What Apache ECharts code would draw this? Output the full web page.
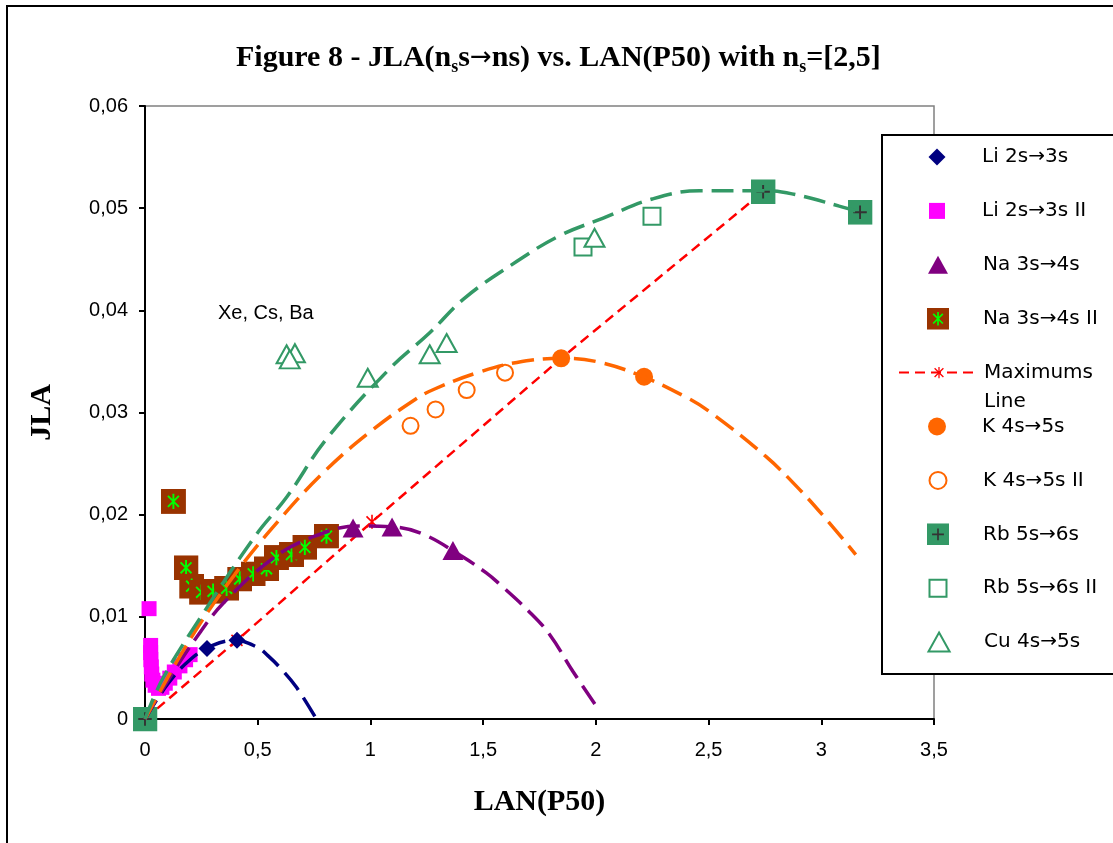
<!DOCTYPE html>
<html><head><meta charset="utf-8">
<script src="https://cdn.jsdelivr.net/npm/echarts@6/dist/echarts.min.js"></script>
<style>html,body{margin:0;padding:0;background:#fff}#c{width:1113px;height:843px}</style>
</head><body><div id="c"></div>
<script>
// ---- data ----
const xTickValues = [0, 0.5, 1, 1.5, 2, 2.5, 3, 3.5];
const yTickValues = [0, 0.01, 0.02, 0.03, 0.04, 0.05, 0.06];

const li2s3s = [[0.275, 0.0069], [0.408, 0.0077]];
const li2s3sII = [[0.018, 0.0108], [0.025, 0.0072], [0.025, 0.0065], [0.026, 0.0058], [0.028, 0.0051],
  [0.030, 0.0044], [0.035, 0.0038], [0.045, 0.0033], [0.060, 0.0030], [0.075, 0.0031], [0.090, 0.0035],
  [0.110, 0.0040], [0.130, 0.0046], [0.155, 0.0052], [0.180, 0.0058], [0.200, 0.0063]];
const na3s4s = [[0.923, 0.0187], [1.096, 0.0188], [1.366, 0.0165]];
const na3s4sII = [[0.126, 0.0213], [0.182, 0.0148], [0.207, 0.0130], [0.251, 0.0124], [0.302, 0.0125],
  [0.362, 0.0128], [0.420, 0.0137], [0.480, 0.0142], [0.539, 0.0147], [0.583, 0.0158], [0.650, 0.0161],
  [0.709, 0.0168], [0.805, 0.0179]];
const maximumsLine = [[0, 0], [0.408, 0.0077], [1.007, 0.0193], [1.846, 0.0353], [2.742, 0.0516]];
const k4s5s = [[1.846, 0.0353], [2.214, 0.0335]];
const k4s5sII = [[1.178, 0.0287], [1.289, 0.0303], [1.427, 0.0322], [1.597, 0.0339]];
const rb5s6s = [[0, 0], [2.742, 0.0516], [3.172, 0.0496]];
const rb5s6sII = [[1.943, 0.0462], [2.249, 0.0492]];
const cu4s5s = [[0.628, 0.0357], [0.665, 0.0358], [0.642, 0.0352], [0.988, 0.0334], [1.263, 0.0357],
  [1.338, 0.0368], [1.994, 0.0471]];

// trend curves (dashed)
const liTrend = [[0, 0], [0.1, 0.0034], [0.2, 0.0058], [0.3, 0.0072], [0.4, 0.0077], [0.5, 0.0070],
  [0.545, 0.0062], [0.6, 0.0050], [0.672, 0.0031], [0.76, 0.0000]];
const naTrend = [[0, 0], [0.1, 0.0037], [0.229, 0.0080], [0.346, 0.0113], [0.554, 0.0155], [0.731, 0.0177],
  [0.95, 0.0189], [1.1, 0.0188], [1.232, 0.0181], [1.40, 0.0160], [1.514, 0.0143], [1.573, 0.0132],
  [1.70, 0.0106], [1.794, 0.0083], [1.897, 0.0047], [2.016, 0.0008]];
const kTrend = [[0, 0], [0.2, 0.0078], [0.4, 0.0142], [0.6, 0.0196], [0.8, 0.0243], [1.004, 0.0282],
  [1.2, 0.0313], [1.285, 0.0323], [1.475, 0.0339], [1.65, 0.0349], [1.85, 0.0353], [2.0, 0.0350],
  [2.2, 0.0336], [2.4, 0.0315], [2.503, 0.0301], [2.754, 0.0257], [2.902, 0.0225], [3.02, 0.0196],
  [3.153, 0.0161]];
const rbTrend = [[0, 0], [0.08, 0.0040], [0.257, 0.0103], [0.495, 0.0181], [0.628, 0.0217], [0.805, 0.0274],
  [1.086, 0.0343], [1.263, 0.0378], [1.418, 0.0412], [1.65, 0.0448], [1.839, 0.0473], [2.03, 0.0490],
  [2.25, 0.0509], [2.46, 0.0517], [2.75, 0.0517], [2.87, 0.0514], [3.08, 0.0502], [3.172, 0.0496]];

const legendNames = ['Li 2s→3s', 'Li 2s→3s II', 'Na 3s→4s', 'Na 3s→4s II', 'Maximums Line',
  'K 4s→5s', 'K 4s→5s II', 'Rb 5s→6s', 'Rb 5s→6s II', 'Cu 4s→5s'];
const annotationText = 'Xe, Cs, Ba';

// ---- styling ----
function svgSym(body, w, h) {
  return 'image://data:image/svg+xml;charset=utf-8,' + encodeURIComponent(
    '<svg xmlns="http://www.w3.org/2000/svg" width="' + w + '" height="' + h + '" viewBox="0 0 ' + w + ' ' + h + '">' + body + '</svg>');
}
const naIISym = svgSym('<rect width="26" height="26" fill="#993300"/><path d="M13 5V21M7.3 7.3L18.7 18.7M18.7 7.3L7.3 18.7" stroke="#00FF00" stroke-width="2"/>', 26, 26);
const rbSym = svgSym('<rect width="26" height="26" fill="#339966"/><path d="M13 6V20M6 13H20" stroke="#333333" stroke-width="2"/>', 26, 26);
const maxSym = svgSym('<path d="M8 1V15M2.5 2.5L13.5 13.5M13.5 2.5L2.5 13.5" stroke="#FF0000" stroke-width="1.6"/>', 16, 16);
const DIAMOND = 'path://M5 0L10 5L5 10L0 5Z';
const SQUARE = 'path://M0 0H10V10H0Z';
const TRI = 'path://M5 0L10 9H0Z';
const CIRCLE = 'path://M5 0A5 5 0 1 1 5 10A5 5 0 1 1 5 0Z';

const NAVY = '#000080', MAG = '#FF00FF', PURP = '#800080', RED = '#FF0000', ORNG = '#FF6600', GRN = '#339966';

const trendStyle = (c) => ({ color: c, width: 3.5, type: [22, 9], opacity: 1 });
const filled = (c) => ({ color: c, opacity: 1 });
const hollow = (c) => ({ color: '#fff', borderColor: c, borderWidth: 2, opacity: 1 });

const series = [
  { name: 'Maximums Line', type: 'line', data: maximumsLine, z: 1, symbol: maxSym, symbolSize: 16,
    showSymbol: true, lineStyle: { color: RED, width: 2.5, type: [10, 6] }, itemStyle: { color: RED, opacity: 1 } },
  { name: 'Li 2s→3s', type: 'scatter', data: li2s3s, z: 2, symbol: DIAMOND, symbolSize: 17, itemStyle: filled(NAVY) },
  { name: 'Li 2s→3s II', type: 'scatter', data: li2s3sII, z: 2, symbol: SQUARE, symbolSize: 15, itemStyle: filled(MAG) },
  { name: 'Na 3s→4s', type: 'scatter', data: na3s4s, z: 2, symbol: TRI, symbolSize: [21, 19], itemStyle: filled(PURP) },
  { name: 'Na 3s→4s II', type: 'scatter', data: na3s4sII, z: 2, symbol: naIISym, symbolSize: 25, itemStyle: { opacity: 1 } },
  { name: 'K 4s→5s', type: 'scatter', data: k4s5s, z: 2, symbol: CIRCLE, symbolSize: 18, itemStyle: filled(ORNG) },
  { name: 'K 4s→5s II', type: 'scatter', data: k4s5sII, z: 2, symbol: CIRCLE, symbolSize: 16, itemStyle: hollow(ORNG) },
  { name: 'Rb 5s→6s', type: 'scatter', data: rb5s6s, z: 2, symbol: rbSym, symbolSize: 25, itemStyle: { opacity: 1 } },
  { name: 'Rb 5s→6s II', type: 'scatter', data: rb5s6sII, z: 2, symbol: SQUARE, symbolSize: 17, itemStyle: hollow(GRN) },
  { name: 'Cu 4s→5s', type: 'scatter', data: cu4s5s, z: 2, symbol: TRI, symbolSize: [20, 18], itemStyle: hollow(GRN) },
  { name: 'Li trend', type: 'line', data: liTrend, z: 3, smooth: 0.4, symbol: 'none', lineStyle: trendStyle(NAVY) },
  { name: 'Na trend', type: 'line', data: naTrend, z: 3, smooth: 0.4, symbol: 'none', lineStyle: trendStyle(PURP) },
  { name: 'K trend', type: 'line', data: kTrend, z: 3, smooth: 0.4, symbol: 'none', lineStyle: trendStyle(ORNG) },
  { name: 'Rb trend', type: 'line', data: rbTrend, z: 3, smooth: 0.4, symbol: 'none', lineStyle: trendStyle(GRN) }
];
series.forEach(s => { s.animation = false; s.emphasis = { disabled: true }; s.silent = true; });

const legendIconH = [17, 16, 18, 22, 16, 18, 17, 22, 17, 19];
const legendImageIcon = [false, false, false, true, true, false, false, true, false, false];
const legendFont = { fontFamily: 'DejaVu Sans', fontSize: 20, color: '#000', lineHeight: 24 };
const legends = legendNames.map((n, i) => {
  const cy = 157 + 53.9 * i;
  const ih = legendIconH[i];
  const lg = {
    data: [n], orient: 'vertical', left: legendImageIcon[i] ? 898 : 937 - ih / 2, top: cy - 12, padding: 0,
    itemWidth: 80, itemHeight: ih, selectedMode: false, z: 60, symbolKeepAspect: true,
    textStyle: legendFont
  };
  if (n === 'Maximums Line') {
    lg.formatter = '\nMaximums\nLine';
    lg.textStyle = Object.assign({}, legendFont, { lineHeight: 29 });
    lg.top = cy - 43.5;
  }
  return lg;
});

const fmtComma = (v) => (v === 0 ? '0' : String(+v.toFixed(3)).replace('.', ','));
const fmtY = (v) => (v === 0 ? '0' : v.toFixed(2).replace('.', ','));

const chart = echarts.init(document.getElementById('c'), null, { renderer: 'canvas' });
chart.setOption({
  animation: false,
  backgroundColor: '#fff',
  title: {
    text: 'Figure 8 - JLA(n{sub|s}s{arr|→}ns) vs. LAN(P50) with n{sub|s}=[2,5]',
    left: 236, top: 40, padding: 0,
    textStyle: {
      fontFamily: 'Liberation Serif', fontWeight: 'bold', fontSize: 30, color: '#000', lineHeight: 36,
      rich: {
        sub: { fontFamily: 'Liberation Serif', fontWeight: 'bold', fontSize: 18, verticalAlign: 'bottom', lineHeight: 22, color: '#000' },
        arr: { fontFamily: 'DejaVu Sans', fontWeight: 'normal', fontSize: 26, lineHeight: 36, color: '#000' }
      }
    }
  },
  grid: { left: 145, top: 106, right: 179, bottom: 124, show: true, borderColor: '#808080', borderWidth: 1.5, backgroundColor: '#fff' },
  xAxis: {
    type: 'value', min: 0, max: 3.5, interval: 0.5,
    name: 'LAN(P50)', nameLocation: 'middle', nameGap: 68,
    nameTextStyle: { fontFamily: 'Liberation Serif', fontWeight: 'bold', fontSize: 30, color: '#000' },
    axisLine: { show: true, onZero: false, lineStyle: { color: '#000', width: 2 } },
    axisTick: { show: true, inside: false, length: 6, lineStyle: { color: '#000', width: 2 } },
    axisLabel: { formatter: fmtComma, fontFamily: 'Liberation Sans', fontSize: 20, color: '#000', margin: 21 },
    splitLine: { show: false }
  },
  yAxis: {
    type: 'value', min: 0, max: 0.06, interval: 0.01,
    name: 'JLA', nameLocation: 'middle', nameGap: 88, nameRotate: 90,
    nameTextStyle: { fontFamily: 'Liberation Serif', fontWeight: 'bold', fontSize: 30, color: '#000' },
    axisLine: { show: true, onZero: false, lineStyle: { color: '#000', width: 2 } },
    axisTick: { show: true, inside: false, length: 6, lineStyle: { color: '#000', width: 2 } },
    axisLabel: { formatter: fmtY, fontFamily: 'Liberation Sans', fontSize: 20, color: '#000', margin: 17 },
    splitLine: { show: false }
  },
  legend: legends,
  graphic: [
    { type: 'rect', z: 50, silent: true, shape: { x: 7, y: 6, width: 1300, height: 1000 },
      style: { fill: 'none', stroke: '#000', lineWidth: 2 } },
    { type: 'rect', z: 50, silent: true, shape: { x: 882, y: 135, width: 300, height: 539 },
      style: { fill: '#fff', stroke: '#000', lineWidth: 2 } },
    { type: 'text', z: 50, silent: true, left: 218, top: 303,
      style: { text: annotationText, fontFamily: 'Liberation Sans', fontSize: 20, fill: '#000' } }
  ],
  series: series
});
</script>
</body></html>
